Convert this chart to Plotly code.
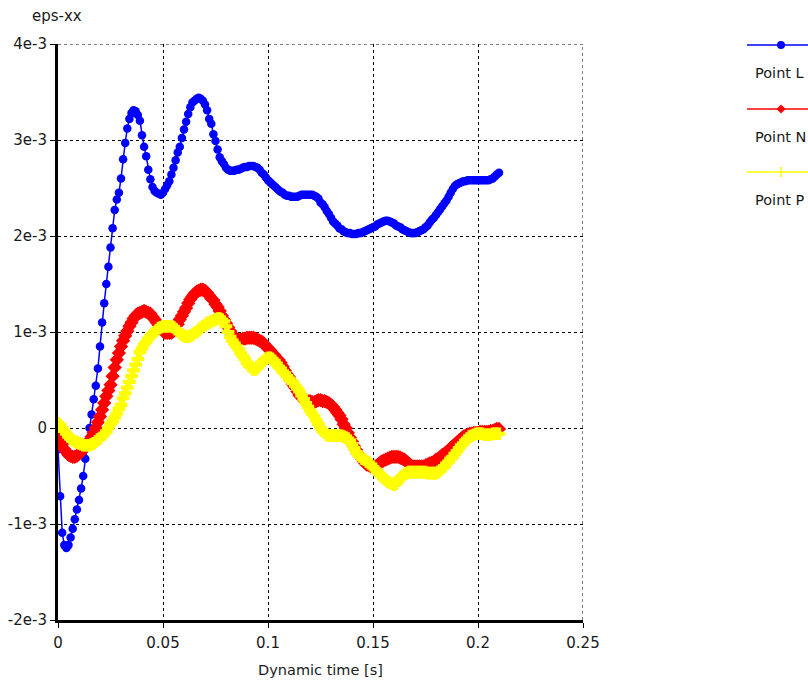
import plotly.graph_objects as go

# Sample times [s], 1 ms step from 0 to 0.21 s
time_s = [round(i * 0.001, 3) for i in range(211)]

# eps-xx histories in units of 1e-3
eps_L_milli = [
    -0.22, -0.71, -1.09, -1.22, -1.25, -1.22, -1.14, -1.05, -0.95, -0.85,
    -0.75, -0.63, -0.50, -0.32, -0.15, 0.00, 0.14, 0.30, 0.44, 0.62,
    0.85, 1.10, 1.30, 1.50, 1.68, 1.88, 2.08, 2.27, 2.38, 2.45,
    2.60, 2.80, 2.97, 3.12, 3.22, 3.28, 3.31, 3.30, 3.26, 3.20,
    3.05, 2.93, 2.83, 2.69, 2.59, 2.51, 2.47, 2.45, 2.44, 2.43,
    2.45, 2.49, 2.53, 2.57, 2.64, 2.71, 2.79, 2.87, 2.93, 3.02,
    3.11, 3.19, 3.27, 3.34, 3.39, 3.41, 3.43, 3.44, 3.43, 3.41,
    3.37, 3.31, 3.22, 3.17, 3.06, 2.99, 2.90, 2.82, 2.78, 2.75,
    2.71, 2.69, 2.68, 2.68, 2.68, 2.69, 2.69, 2.70, 2.71, 2.72,
    2.72, 2.73, 2.73, 2.73, 2.72, 2.71, 2.69, 2.66, 2.64, 2.61,
    2.58, 2.56, 2.54, 2.52, 2.50, 2.48, 2.46, 2.45, 2.43, 2.42,
    2.42, 2.41, 2.41, 2.41, 2.41, 2.42, 2.43, 2.43, 2.43, 2.43,
    2.43, 2.43, 2.42, 2.41, 2.39, 2.35, 2.33, 2.30, 2.26, 2.23,
    2.19, 2.15, 2.13, 2.11, 2.08, 2.07, 2.05, 2.04, 2.03, 2.03,
    2.02, 2.02, 2.02, 2.03, 2.03, 2.04, 2.05, 2.06, 2.07, 2.08,
    2.09, 2.10, 2.12, 2.13, 2.14, 2.15, 2.16, 2.16, 2.15, 2.14,
    2.13, 2.11, 2.10, 2.09, 2.07, 2.06, 2.05, 2.04, 2.03, 2.03,
    2.03, 2.04, 2.05, 2.06, 2.07, 2.09, 2.11, 2.14, 2.17, 2.19,
    2.22, 2.25, 2.28, 2.31, 2.34, 2.37, 2.41, 2.45, 2.49, 2.52,
    2.54, 2.55, 2.56, 2.57, 2.57, 2.58, 2.58, 2.58, 2.58, 2.58,
    2.58, 2.58, 2.58, 2.58, 2.58, 2.58, 2.59, 2.60, 2.62, 2.64, 2.66,
]

eps_N_milli = [
    -0.03, -0.10, -0.17, -0.22, -0.25, -0.28, -0.29, -0.30, -0.30, -0.29,
    -0.27, -0.25, -0.22, -0.19, -0.16, -0.13, -0.09, -0.05, 0.00, 0.06,
    0.12, 0.19, 0.26, 0.33, 0.39, 0.45, 0.54, 0.63, 0.71, 0.78,
    0.85, 0.91, 0.96, 1.01, 1.06, 1.10, 1.14, 1.17, 1.19, 1.20,
    1.21, 1.22, 1.21, 1.20, 1.19, 1.16, 1.13, 1.10, 1.07, 1.04,
    1.01, 0.99, 0.99, 0.99, 0.99, 1.01, 1.03, 1.08, 1.13, 1.17,
    1.21, 1.25, 1.30, 1.34, 1.37, 1.40, 1.42, 1.43, 1.44, 1.44,
    1.43, 1.41, 1.38, 1.35, 1.33, 1.29, 1.26, 1.22, 1.17, 1.13,
    1.09, 1.05, 1.01, 0.97, 0.94, 0.93, 0.92, 0.92, 0.93, 0.93,
    0.94, 0.94, 0.94, 0.94, 0.93, 0.92, 0.91, 0.90, 0.88, 0.85,
    0.83, 0.81, 0.78, 0.76, 0.73, 0.71, 0.68, 0.64, 0.60, 0.56,
    0.53, 0.49, 0.45, 0.42, 0.38, 0.34, 0.32, 0.30, 0.29, 0.28,
    0.28, 0.27, 0.27, 0.28, 0.29, 0.29, 0.28, 0.28, 0.27, 0.26,
    0.24, 0.22, 0.19, 0.16, 0.13, 0.09, 0.04, 0.00, -0.05, -0.10,
    -0.14, -0.19, -0.23, -0.27, -0.30, -0.33, -0.36, -0.38, -0.39, -0.40,
    -0.40, -0.40, -0.39, -0.37, -0.35, -0.34, -0.33, -0.32, -0.31, -0.30,
    -0.30, -0.30, -0.30, -0.31, -0.32, -0.33, -0.35, -0.37, -0.39, -0.40,
    -0.40, -0.40, -0.40, -0.40, -0.40, -0.39, -0.38, -0.37, -0.36, -0.35,
    -0.33, -0.32, -0.30, -0.28, -0.27, -0.25, -0.23, -0.21, -0.19, -0.17,
    -0.15, -0.13, -0.11, -0.09, -0.08, -0.07, -0.06, -0.06, -0.05, -0.05,
    -0.05, -0.04, -0.04, -0.04, -0.04, -0.04, -0.03, -0.03, -0.02, -0.01, -0.01,
]

eps_P_milli = [
    0.05, 0.03, 0.00, -0.03, -0.06, -0.09, -0.11, -0.13, -0.14, -0.15,
    -0.16, -0.17, -0.18, -0.18, -0.18, -0.18, -0.17, -0.16, -0.14, -0.12,
    -0.11, -0.08, -0.06, -0.04, 0.00, 0.04, 0.07, 0.11, 0.15, 0.20,
    0.24, 0.31, 0.36, 0.42, 0.48, 0.54, 0.60, 0.66, 0.72, 0.79,
    0.83, 0.87, 0.90, 0.93, 0.96, 0.98, 1.00, 1.02, 1.04, 1.05,
    1.06, 1.06, 1.06, 1.06, 1.06, 1.05, 1.03, 1.01, 0.99, 0.97,
    0.96, 0.95, 0.95, 0.96, 0.97, 0.99, 1.00, 1.02, 1.04, 1.06,
    1.07, 1.09, 1.10, 1.11, 1.12, 1.13, 1.14, 1.14, 1.13, 1.11,
    1.06, 1.00, 0.95, 0.91, 0.88, 0.85, 0.82, 0.78, 0.75, 0.72,
    0.68, 0.65, 0.63, 0.61, 0.61, 0.63, 0.66, 0.68, 0.70, 0.72,
    0.73, 0.73, 0.72, 0.70, 0.67, 0.64, 0.62, 0.59, 0.57, 0.54,
    0.51, 0.49, 0.47, 0.44, 0.41, 0.38, 0.34, 0.30, 0.26, 0.22,
    0.18, 0.15, 0.12, 0.08, 0.04, 0.00, -0.03, -0.05, -0.07, -0.08,
    -0.08, -0.08, -0.08, -0.08, -0.08, -0.08, -0.09, -0.10, -0.11, -0.13,
    -0.17, -0.21, -0.25, -0.28, -0.30, -0.32, -0.33, -0.35, -0.36, -0.38,
    -0.41, -0.43, -0.45, -0.48, -0.50, -0.52, -0.54, -0.56, -0.57, -0.58,
    -0.59, -0.58, -0.55, -0.52, -0.50, -0.48, -0.47, -0.46, -0.46, -0.46,
    -0.46, -0.46, -0.46, -0.46, -0.46, -0.46, -0.47, -0.47, -0.47, -0.47,
    -0.47, -0.46, -0.44, -0.42, -0.40, -0.37, -0.35, -0.32, -0.30, -0.27,
    -0.24, -0.21, -0.18, -0.16, -0.13, -0.11, -0.09, -0.08, -0.07, -0.06,
    -0.06, -0.06, -0.06, -0.07, -0.07, -0.07, -0.07, -0.06, -0.06, -0.06, -0.06,
]

# Axis ticks
x_ticks = [0, 0.05, 0.1, 0.15, 0.2, 0.25]
x_tick_text = ["0", "0.05", "0.1", "0.15", "0.2", "0.25"]
y_ticks = [-2e-3, -1e-3, 0, 1e-3, 2e-3, 3e-3, 4e-3]
y_tick_text = ["-2e-3", "-1e-3", "0", "1e-3", "2e-3", "3e-3", "4e-3"]

series_names = ["Point L", "Point N", "Point P"]
series_colors = ["#0000ff", "#ff0000", "#ffff00"]

FONT = "DejaVu Sans"
TXT = "#1a1a1a"

W, H = 808, 684
ML, MR, MT, MB = 58, 0, 44, 64
PLOT_W = W - ML - MR
PLOT_H = H - MT - MB
X_RIGHT_PX = 583  # right end of the data area


def px(x):
    return (x - ML) / PLOT_W


def py(y):
    return (H - MB - y) / PLOT_H


def to_strain(vals):
    return [v * 1e-3 for v in vals]


fig = go.Figure()
fig.add_trace(go.Scatter(
    x=time_s, y=to_strain(eps_L_milli), name=series_names[0], mode="lines+markers",
    line=dict(color=series_colors[0], width=1.5),
    marker=dict(symbol="circle", size=8.5, color=series_colors[0], line=dict(width=0)),
))
fig.add_trace(go.Scatter(
    x=time_s, y=to_strain(eps_N_milli), name=series_names[1], mode="lines+markers",
    line=dict(color=series_colors[1], width=1.5),
    marker=dict(symbol="diamond", size=11, color=series_colors[1], line=dict(width=0)),
))
fig.add_trace(go.Scatter(
    x=time_s, y=to_strain(eps_P_milli), name=series_names[2], mode="lines+markers",
    line=dict(color=series_colors[2], width=1.5),
    marker=dict(symbol="cross", size=10.5, color=series_colors[2], line=dict(width=0)),
))

axis_common = dict(
    showline=True, linecolor="black", linewidth=3,
    ticks="outside", ticklen=5, tickwidth=1, tickcolor="black",
    showgrid=True, gridcolor="black", gridwidth=1, griddash="dot",
    zeroline=False, automargin=False,
    tickfont=dict(family=FONT, size=15, color=TXT),
)

fig.update_layout(
    width=W, height=H, autosize=False,
    margin=dict(l=ML, r=MR, t=MT, b=MB, pad=0, autoexpand=False),
    paper_bgcolor="white", plot_bgcolor="white",
    showlegend=False,
    xaxis=dict(
        domain=[0, (X_RIGHT_PX - ML) / PLOT_W],
        range=[0, 0.25], tickmode="array", tickvals=x_ticks, ticktext=x_tick_text,
        ticklabelstandoff=2,
        title=dict(text="Dynamic time [s]", font=dict(family=FONT, size=14.5, color=TXT), standoff=14),
        **axis_common,
    ),
    yaxis=dict(
        range=[-2e-3, 4e-3], tickmode="array", tickvals=y_ticks, ticktext=y_tick_text,
        **axis_common,
    ),
)

# Dotted grid lines along the far edges of the data area
fig.add_shape(type="line", xref="x", yref="paper", x0=x_ticks[-1], x1=x_ticks[-1], y0=0, y1=1,
              line=dict(color="black", width=1, dash="dot"), layer="below")
fig.add_shape(type="line", xref="paper", yref="y", x0=0, x1=(X_RIGHT_PX - ML) / PLOT_W,
              y0=y_ticks[-1], y1=y_ticks[-1],
              line=dict(color="black", width=1, dash="dot"), layer="below")

# y-axis caption above the axis
fig.add_annotation(
    text="eps-xx", xref="paper", yref="paper", x=px(57), y=py(16),
    showarrow=False, xanchor="center", yanchor="middle",
    font=dict(family=FONT, size=15, color=TXT),
)

# Legend: sample line with marker, name underneath
legend_rows = [45, 109, 172]
for name, color, ly, sym in zip(series_names, series_colors, legend_rows,
                                 ["circle", "diamond", "cross"]):
    fig.add_shape(type="line", xref="paper", yref="paper",
                  x0=px(747), x1=px(808), y0=py(ly), y1=py(ly),
                  line=dict(color=color, width=1.5))
    cx = 781
    if sym == "circle":
        fig.add_shape(type="circle", xref="paper", yref="paper",
                      x0=px(cx - 4), x1=px(cx + 4), y0=py(ly - 4), y1=py(ly + 4),
                      fillcolor=color, line=dict(color=color, width=0))
    elif sym == "diamond":
        fig.add_shape(type="path", xref="paper", yref="paper",
                      path=(f"M {px(cx - 4.5)} {py(ly)} L {px(cx)} {py(ly - 4.5)} "
                            f"L {px(cx + 4.5)} {py(ly)} L {px(cx)} {py(ly + 4.5)} Z"),
                      fillcolor=color, line=dict(color=color, width=0))
    else:
        fig.add_shape(type="line", xref="paper", yref="paper",
                      x0=px(cx), x1=px(cx), y0=py(ly - 5), y1=py(ly + 5),
                      line=dict(color=color, width=1.5))
    fig.add_annotation(
        text=name, xref="paper", yref="paper", x=px(753), y=py(ly + 28),
        showarrow=False, xanchor="left", yanchor="middle",
        font=dict(family=FONT, size=14.5, color=TXT),
    )

fig.write_html("out.html")
